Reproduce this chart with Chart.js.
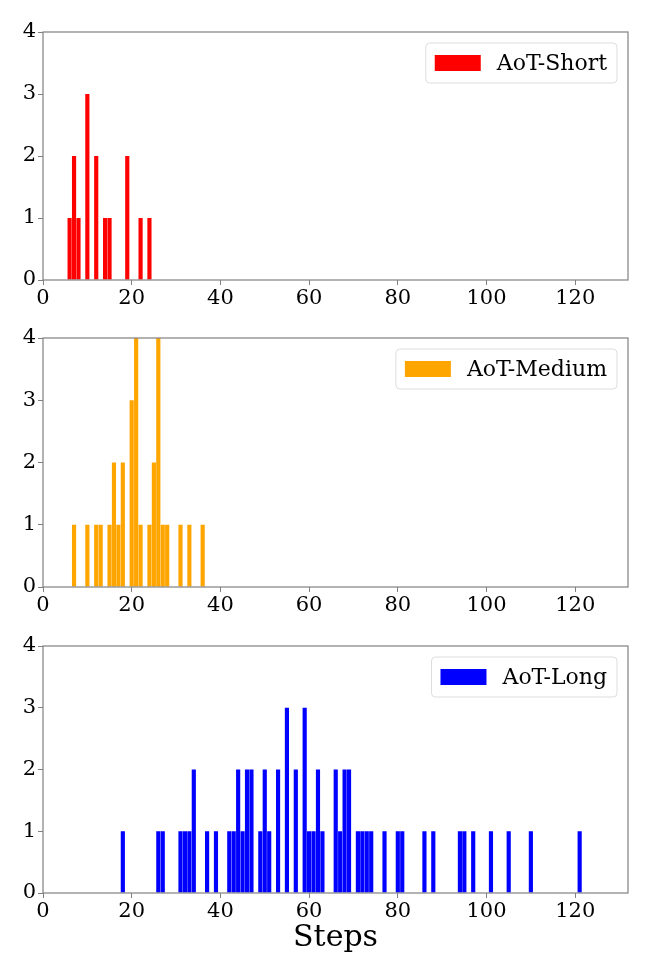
<!DOCTYPE html>
<html>
<head>
<meta charset="utf-8">
<script src="https://cdn.jsdelivr.net/npm/chart.js@4.4.1/dist/chart.umd.min.js"></script>
<style>
  html, body { margin: 0; padding: 0; background: #fff; }
  #wrap { position: relative; width: 652px; height: 978px; }
  canvas { position: absolute; left: 0; }
</style>
</head>
<body>
<div id="wrap">
  <canvas id="c1" width="652" height="310" style="top:0px"></canvas>
  <canvas id="c2" width="652" height="307" style="top:310px"></canvas>
  <canvas id="c3" width="652" height="361" style="top:617px"></canvas>
</div>
<script>
// histogram counts per step value
const shortSteps = [6, 7, 8, 10, 12, 14, 15, 19, 22, 24];
const shortCounts = [1, 2, 1, 3, 2, 1, 1, 2, 1, 1];

const mediumSteps = [7, 10, 12, 13, 15, 16, 17, 18, 20, 21, 22, 24, 25, 26, 27, 28, 31, 33, 36];
const mediumCounts = [1, 1, 1, 1, 1, 2, 1, 2, 3, 4, 1, 1, 2, 4, 1, 1, 1, 1, 1];

const longSteps = [18, 26, 27, 31, 32, 33, 34, 37, 39, 42, 43, 44, 45, 46, 47, 49, 50, 51, 53, 55,
                   57, 59, 60, 61, 62, 63, 66, 67, 68, 69, 71, 72, 73, 74, 77, 80, 81, 86, 88, 94,
                   95, 97, 101, 105, 110, 121];
const longCounts = [1, 1, 1, 1, 1, 1, 2, 1, 1, 1, 1, 2, 1, 2, 2, 1, 2, 1, 2, 3,
                    2, 3, 1, 1, 2, 1, 2, 1, 2, 2, 1, 1, 1, 1, 1, 1, 1, 1, 1, 1,
                    1, 1, 1, 1, 1, 1];

const xTicks = [0, 20, 40, 60, 80, 100, 120];
const yTicks = [0, 1, 2, 3, 4];

const FONT = "'DejaVu Serif', serif";
const SPINE = '#808080';

// box around the plot area, like matplotlib spines
const framePlugin = {
    id: 'frame',
    afterDatasetsDraw(chart) {
        const a = chart.chartArea;
        const ctx = chart.ctx;
        ctx.save();
        ctx.strokeStyle = SPINE;
        ctx.lineWidth = 1.2;
        ctx.strokeRect(a.left, a.top, a.right - a.left, a.bottom - a.top);
        ctx.restore();
    }
};

// framed legend in the upper right corner
const legendBoxPlugin = {
    id: 'legendBox',
    afterDraw(chart) {
        const ds = chart.data.datasets[0];
        const a = chart.chartArea;
        const ctx = chart.ctx;
        ctx.save();
        ctx.font = '22px ' + FONT;
        const tw = ctx.measureText(ds.label).width;
        const w = 9 + 46 + 16 + tw + 10;
        const h = 40;
        const right = a.right - 11;
        const top = a.top + 11;
        const left = right - w;
        ctx.fillStyle = 'rgba(255,255,255,0.8)';
        ctx.strokeStyle = '#dddddd';
        ctx.lineWidth = 1;
        ctx.beginPath();
        ctx.roundRect(left, top, w, h, 4);
        ctx.fill();
        ctx.stroke();
        ctx.fillStyle = ds.backgroundColor;
        ctx.fillRect(left + 9, top + 12, 46, 16);
        ctx.fillStyle = '#000';
        ctx.textBaseline = 'middle';
        ctx.fillText(ds.label, left + 9 + 46 + 16, top + h / 2 + 1);
        ctx.restore();
    }
};

function makeHist(id, label, color, steps, counts, padTop, xHeight, showTitle) {
    const points = steps.map((s, k) => ({ x: s, y: counts[k] }));
    return new Chart(document.getElementById(id), {
        type: 'bar',
        data: {
            datasets: [{
                label: label,
                data: points,
                backgroundColor: color,
                borderWidth: 0,
                barPercentage: 0.94,
                categoryPercentage: 1.0
            }]
        },
        plugins: [framePlugin, legendBoxPlugin],
        options: {
            responsive: false,
            animation: false,
            devicePixelRatio: 1,
            layout: { padding: { top: padTop, right: 24, left: 0, bottom: 0 } },
            scales: {
                x: {
                    type: 'linear',
                    min: 0,
                    max: 131.9,
                    offset: false,
                    afterBuildTicks: (s) => { s.ticks = xTicks.map(v => ({ value: v })); },
                    afterFit: (s) => { s.height = xHeight; },
                    grid: { display: true, offset: false, drawOnChartArea: false, drawTicks: true, tickLength: 5, color: SPINE },
                    border: { display: false },
                    ticks: { font: { family: FONT, size: 21 }, color: '#000', padding: 1, maxRotation: 0 },
                    title: {
                        display: showTitle,
                        text: 'Steps',
                        font: { family: FONT, size: 30 },
                        color: '#000',
                        padding: { top: 0, bottom: 22 }
                    }
                },
                y: {
                    min: 0,
                    max: 4,
                    afterBuildTicks: (s) => { s.ticks = yTicks.map(v => ({ value: v })); },
                    afterFit: (s) => { s.width = 43; },
                    grid: { display: true, drawOnChartArea: false, drawTicks: true, tickLength: 5, color: SPINE },
                    border: { display: false },
                    ticks: { font: { family: FONT, size: 21 }, color: '#000', padding: 2 }
                }
            },
            plugins: {
                legend: { display: false },
                tooltip: { enabled: false }
            }
        }
    });
}

makeHist('c1', 'AoT-Short', '#ff0000', shortSteps, shortCounts, 32, 30, false);
makeHist('c2', 'AoT-Medium', '#ffa500', mediumSteps, mediumCounts, 28, 30, false);
makeHist('c3', 'AoT-Long', '#0000ff', longSteps, longCounts, 29, 85, true);
</script>
</body>
</html>
